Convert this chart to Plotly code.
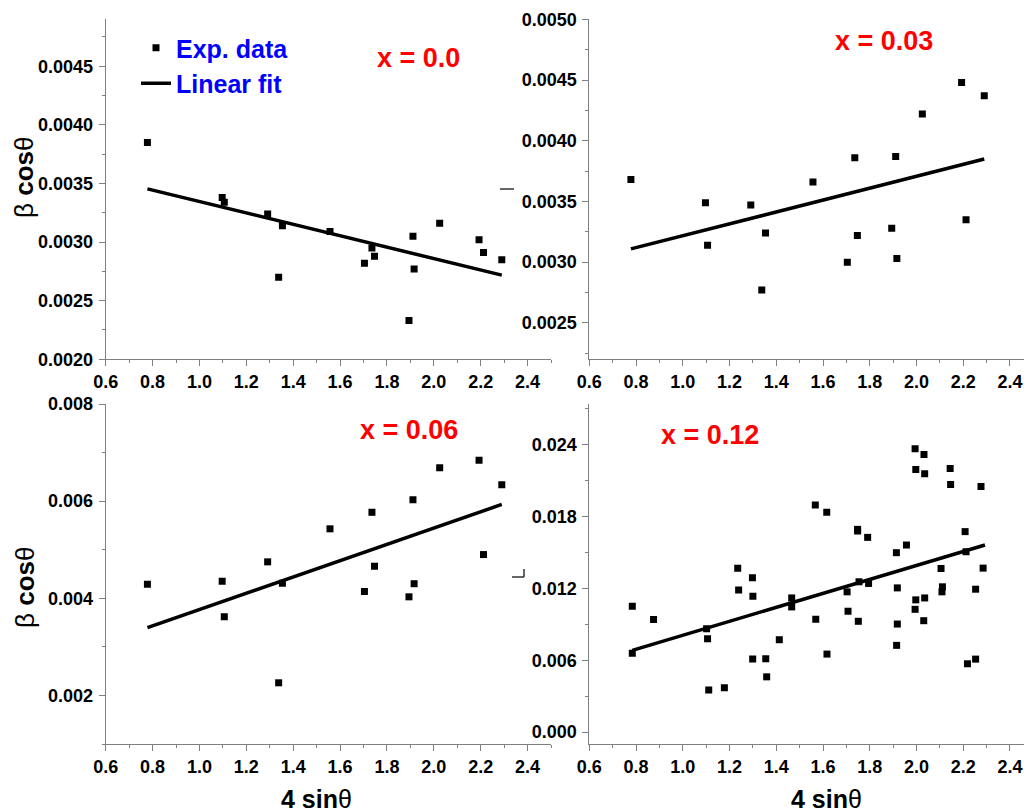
import plotly.graph_objects as go

# ---------------- data ----------------
sin_theta_4 = [0.778, 1.097, 1.106, 1.291, 1.338, 1.354, 1.557, 1.704, 1.736,
               1.747, 1.894, 1.911, 1.916, 2.025, 2.193, 2.212, 2.290]

beta_cos_x000 = [0.00385, 0.00338, 0.00334, 0.00324, 0.00270, 0.00314, 0.00309,
                 0.00282, 0.00295, 0.00288, 0.00233, 0.00305, 0.00277, 0.00316,
                 0.00302, 0.00291, 0.00285]
beta_cos_x003 = [0.00368, 0.00349, 0.00314, 0.00347, 0.00277, 0.00324, 0.00366,
                 0.00300, 0.00386, 0.00322, 0.00328, 0.00387, 0.00303, 0.00422,
                 0.00448, 0.00335, 0.00437]
beta_cos_x006 = [0.00429, 0.00435, 0.00362, 0.00475, 0.00226, 0.00431, 0.00543,
                 0.00414, 0.00577, 0.00466, 0.00403, 0.00603, 0.00430, 0.00669,
                 0.00684, 0.00490, 0.00634]

sin_theta_4_x012 = [0.784, 0.784, 0.875, 1.102, 1.106, 1.111, 1.178, 1.235, 1.239,
                    1.298, 1.300, 1.299, 1.355, 1.359, 1.413, 1.466, 1.466, 1.567,
                    1.569, 1.616, 1.617, 1.703, 1.707, 1.748, 1.748, 1.751, 1.754,
                    1.791, 1.795, 1.914, 1.918, 1.918, 1.915, 1.957, 1.994, 1.997,
                    1.997, 1.994, 2.032, 2.035, 2.035, 2.031, 2.105, 2.111, 2.109,
                    2.144, 2.146, 2.208, 2.212, 2.218, 2.253, 2.253, 2.276, 2.285]
beta_cos_x012 = [0.01051, 0.00657, 0.00939, 0.00863, 0.00780, 0.00352, 0.00369,
                 0.01369, 0.01187, 0.01288, 0.01134, 0.00609, 0.00612, 0.00461,
                 0.00771, 0.01120, 0.01045, 0.01897, 0.00942, 0.01836, 0.00651,
                 0.01171, 0.01009, 0.01693, 0.01679, 0.00925, 0.01255, 0.01626,
                 0.01241, 0.01498, 0.01204, 0.00902, 0.00724, 0.01562, 0.02367,
                 0.02193, 0.01104, 0.01025, 0.02319, 0.02157, 0.01120, 0.00930,
                 0.01366, 0.01213, 0.01171, 0.02202, 0.02068, 0.01674, 0.01506,
                 0.00570, 0.01193, 0.00609, 0.02051, 0.01369]

fit_x = [0.778, 2.290]
fit_x000 = [0.003454, 0.002718]
fit_x003 = [0.003109, 0.003849]
fit_x006 = [0.003397, 0.005932]
fit_x_012 = [0.784, 2.293]
fit_x012 = [0.00682, 0.01562]

panel_labels = ["x = 0.0", "x = 0.03", "x = 0.06", "x = 0.12"]

# ---------------- figure ----------------
W, H = 1024, 812
fig = go.Figure()

panels = [
    (sin_theta_4, beta_cos_x000, fit_x, fit_x000, "x", "y"),
    (sin_theta_4, beta_cos_x003, fit_x, fit_x003, "x2", "y2"),
    (sin_theta_4, beta_cos_x006, fit_x, fit_x006, "x3", "y3"),
    (sin_theta_4_x012, beta_cos_x012, fit_x_012, fit_x012, "x4", "y4"),
]
for i, (xs, ys, fx, fy, xa, ya) in enumerate(panels):
    fig.add_trace(go.Scatter(x=xs, y=ys, mode="markers", xaxis=xa, yaxis=ya,
                             name="Exp. data", showlegend=(i == 0),
                             marker=dict(symbol="square", size=7, color="black")))
    fig.add_trace(go.Scatter(x=fx, y=fy, mode="lines", xaxis=xa, yaxis=ya,
                             name="Linear fit", showlegend=(i == 0),
                             line=dict(color="black", width=3.5)))

axis_col = "#808080"
tickfont = dict(family="Liberation Sans", size=18, color="black", weight="bold")


def xax(domain, rng, anchor):
    return dict(domain=domain, range=rng, anchor=anchor, showline=True,
                linecolor=axis_col, linewidth=1, ticks="outside", ticklen=6,
                tickcolor=axis_col, tick0=0.6, dtick=0.2, tickformat=".1f",
                showgrid=False, zeroline=False, tickfont=tickfont, automargin=False,
                minor=dict(ticks="outside", ticklen=3, dtick=0.1, tick0=0.6,
                           tickcolor=axis_col, showgrid=False))


def yax(domain, rng, anchor, dtick, tick0, minor, fmt):
    return dict(domain=domain, range=rng, anchor=anchor, showline=True,
                linecolor=axis_col, linewidth=1, ticks="outside", ticklen=6,
                tickcolor=axis_col, tick0=tick0, dtick=dtick, tickformat=fmt,
                showgrid=False, zeroline=False, tickfont=tickfont, automargin=False,
                ticklabelstandoff=2,
                minor=dict(ticks="outside", ticklen=3, dtick=minor, tick0=tick0,
                           tickcolor=axis_col, showgrid=False))


xl = [105.7 / W, 551 / W]
xr = [589.3 / W, 1.0]
yt = [1 - 359.3 / H, 1 - 19.3 / H]
yb = [1 - 744 / H, 1 - 404 / H]

fig.update_layout(
    width=W, height=H, margin=dict(l=0, r=0, t=0, b=0, pad=0, autoexpand=False),
    paper_bgcolor="white", plot_bgcolor="white",
    xaxis=xax(xl, [0.6, 2.5], "y"),
    xaxis2=xax(xr, [0.6, 2.46], "y2"),
    xaxis3=xax(xl, [0.6, 2.5], "y3"),
    xaxis4=xax(xr, [0.6, 2.46], "y4"),
    yaxis=yax(yt, [0.0020, 0.0049], "x", 0.0005, 0.0020, 0.00025, ".4f"),
    yaxis2=yax(yt, [0.0022, 0.0050], "x2", 0.0005, 0.0020, 0.00025, ".4f"),
    yaxis3=yax(yb, [0.0010, 0.0080], "x3", 0.002, 0.0, 0.001, ".3f"),
    yaxis4=yax(yb, [-0.001, 0.0274], "x4", 0.006, 0.0, 0.003, ".3f"),
    legend=dict(x=136 / W, y=1 - 25 / H, xanchor="left", yanchor="top",
                bgcolor="rgba(0,0,0,0)", borderwidth=0, tracegroupgap=0,
                font=dict(family="Liberation Sans", size=25, color="blue",
                          weight="bold")),
    showlegend=True,
)

ann = []
red = dict(family="Liberation Sans", size=27, color="red", weight="bold")
for txt, (cx, cy) in zip(panel_labels, [(418, 58), (883.5, 41.5), (408.5, 430), (709.5, 435)]):
    ann.append(dict(text=txt, x=cx / W, y=1 - cy / H, xref="paper", yref="paper",
                    showarrow=False, xanchor="center", yanchor="middle", font=red))

ytitle = "β <b>cos</b>θ"
for cx, cy in [(24, 178), (25, 588)]:
    ann.append(dict(text=ytitle, x=cx / W, y=1 - cy / H, xref="paper", yref="paper",
                    showarrow=False, textangle=-90, xanchor="center", yanchor="middle",
                    font=dict(family="Liberation Sans", size=26, color="black")))
xtitle = "<b>4 sin</b>θ"
for cx, cy in [(316, 799), (826, 799)]:
    ann.append(dict(text=xtitle, x=cx / W, y=1 - cy / H, xref="paper", yref="paper",
                    showarrow=False, xanchor="center", yanchor="middle",
                    font=dict(family="Liberation Sans", size=25, color="black")))
fig.update_layout(annotations=ann)

# small leftover marks visible in the reference
shp = dict(xref="paper", yref="paper", line=dict(color="#333333", width=1.5))
fig.add_shape(type="line", x0=500 / W, x1=514 / W, y0=1 - 189 / H, y1=1 - 189 / H, **shp)
fig.add_shape(type="line", x0=512 / W, x1=524 / W, y0=1 - 577 / H, y1=1 - 577 / H, **shp)
fig.add_shape(type="line", x0=524 / W, x1=524 / W, y0=1 - 569 / H, y1=1 - 577 / H, **shp)

fig.write_html("out.html")
